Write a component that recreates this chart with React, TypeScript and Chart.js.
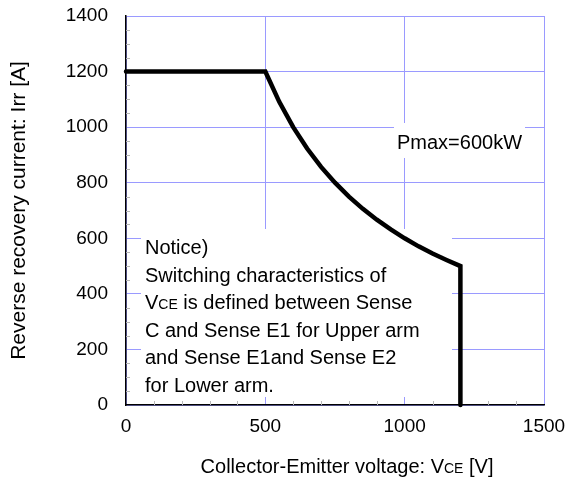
import React, { useEffect, useRef } from "react";
import { Chart, registerables } from "chart.js";

Chart.register(...registerables);

// Safe operating curve (Pmax = 600 kW)
const voltage = [0, 500, 550, 600, 650, 700, 750, 800, 850, 900, 950, 1000, 1050, 1100, 1150, 1200, 1200];
const current = [1200, 1200, 1091, 1000, 923, 857, 800, 750, 706, 667, 632, 600, 571, 545, 522, 500, 0];

const xTicks = [0, 500, 1000, 1500];
const yTicks = [0, 200, 400, 600, 800, 1000, 1200, 1400];

const noticeLines = [
  "Notice)",
  "Switching characteristics of",
  "V|CE| is defined between Sense",
  "C and Sense E1 for Upper arm",
  "and Sense E1and Sense E2",
  "for Lower arm.",
];
const pmaxLabel = "Pmax=600kW";
const yTitle = "Reverse recovery current: Irr [A]";
const xTitleParts = ["Collector-Emitter voltage: V", "CE", " [V]"];

const FONT = "'Liberation Sans', Arial, sans-serif";
const GRID = "#9a9aff";

function drawMixed(ctx: CanvasRenderingContext2D, parts: string[], x: number, y: number, size: number, small: number) {
  let cx = x;
  parts.forEach((p, i) => {
    ctx.font = `${i % 2 === 1 ? small : size}px ${FONT}`;
    ctx.fillText(p, cx, y);
    cx += ctx.measureText(p).width;
  });
  return cx - x;
}
function measureMixed(ctx: CanvasRenderingContext2D, parts: string[], size: number, small: number) {
  let w = 0;
  parts.forEach((p, i) => {
    ctx.font = `${i % 2 === 1 ? small : size}px ${FONT}`;
    w += ctx.measureText(p).width;
  });
  return w;
}

const decorPlugin = {
  id: "decor",
  beforeDatasetsDraw(chart: any) {
    const { ctx, chartArea: a, scales } = chart;
    const xs = scales.x;
    const ys = scales.y;
    ctx.save();
    // minor ticks inside plot
    ctx.strokeStyle = "#b8b8b8";
    ctx.lineWidth = 1;
    for (let v = 50; v < 1400; v += 50) {
      if (v % 200 === 0) continue;
      const py = Math.round(ys.getPixelForValue(v)) + 0.5;
      ctx.beginPath();
      ctx.moveTo(a.left, py);
      ctx.lineTo(a.left + 4, py);
      ctx.stroke();
    }
    for (let v = 100; v < 1500; v += 100) {
      if (v % 500 === 0) continue;
      const px = Math.round(xs.getPixelForValue(v)) + 0.5;
      ctx.beginPath();
      ctx.moveTo(px, a.bottom);
      ctx.lineTo(px, a.bottom - 4);
      ctx.stroke();
    }
    // white boxes behind text
    ctx.fillStyle = "#ffffff";
    ctx.fillRect(a.left + 15, a.top + 213, 311, 168);
    ctx.fillRect(a.left + 268, a.top + 107, 131, 35);
    // texts
    ctx.fillStyle = "#000000";
    ctx.textBaseline = "alphabetic";
    ctx.textAlign = "left";
    ctx.font = `20px ${FONT}`;
    ctx.fillText(pmaxLabel, a.left + 271, a.top + 133);
    noticeLines.forEach((line, i) => {
      const y = a.top + 238 + i * 27.5;
      drawMixed(ctx, line.split("|"), a.left + 19, y, 20, 14);
    });
    ctx.restore();
  },
  afterDraw(chart: any) {
    const { ctx, chartArea: a } = chart;
    ctx.save();
    ctx.fillStyle = "#000000";
    ctx.textBaseline = "alphabetic";
    // x title
    const w = measureMixed(ctx, xTitleParts, 20, 14);
    const cx = (a.left + a.right) / 2 + 12;
    drawMixed(ctx, xTitleParts, cx - w / 2, 473, 20, 14);
    // y title
    ctx.translate(25, (a.top + a.bottom) / 2);
    ctx.rotate(-Math.PI / 2);
    ctx.font = `21px ${FONT}`;
    ctx.textAlign = "center";
    ctx.fillText(yTitle, 0, 0);
    ctx.restore();
  },
};

export default function App() {
  const ref = useRef<HTMLCanvasElement | null>(null);
  useEffect(() => {
    if (!ref.current) return;
    const chart = new Chart(ref.current, {
      type: "scatter",
      data: {
        datasets: [
          {
            data: voltage.map((v, i) => ({ x: v, y: current[i] })),
            showLine: true,
            borderColor: "#000000",
            borderWidth: 4.5,
            pointRadius: 0,
            tension: 0,
            borderCapStyle: "round",
            borderJoinStyle: "miter",
            clip: false,
          } as any,
        ],
      },
      options: {
        animation: false,
        responsive: false,
        devicePixelRatio: 1,
        layout: { padding: { top: 16, right: 35, left: 0, bottom: 0 } },
        plugins: { legend: { display: false }, tooltip: { enabled: false } },
        scales: {
          x: {
            type: "linear",
            min: 0,
            max: 1500,
            afterBuildTicks: (s: any) => {
              s.ticks = xTicks.map((v) => ({ value: v }));
            },
            afterFit: (s: any) => {
              s.height = 74;
              s.paddingLeft = 0;
              s.paddingRight = 0;
              s.paddingTop = 0;
              s.paddingBottom = 0;
            },
            ticks: {
              color: "#000",
              font: { family: FONT, size: 19 },
              padding: 10,
              maxRotation: 0,
              callback: (v: any) => String(v),
            },
            grid: { color: GRID, lineWidth: 1, drawTicks: false },
            border: { color: "#000", width: 1.5 },
          },
          y: {
            type: "linear",
            min: 0,
            max: 1400,
            afterBuildTicks: (s: any) => {
              s.ticks = yTicks.map((v) => ({ value: v }));
            },
            afterFit: (s: any) => {
              s.width = 126;
              s.paddingLeft = 0;
              s.paddingRight = 0;
              s.paddingTop = 0;
              s.paddingBottom = 0;
            },
            ticks: {
              color: "#000",
              font: { family: FONT, size: 19 },
              padding: 18,
              callback: (v: any) => String(v),
            },
            grid: { color: GRID, lineWidth: 1, drawTicks: false },
            border: { color: "#000", width: 1.5 },
          },
        },
      },
      plugins: [decorPlugin],
    });
    return () => chart.destroy();
  }, []);
  return (
    <div style={{ position: "fixed", left: 0, top: 0, width: 579, height: 479, background: "#fff" }}>
      <canvas ref={ref} width={579} height={479} style={{ display: "block" }} />
    </div>
  );
}
